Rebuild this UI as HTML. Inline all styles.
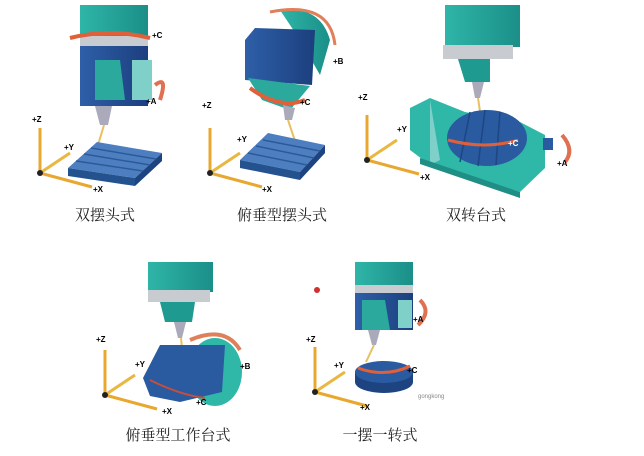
<!DOCTYPE html>
<html><head><meta charset="utf-8"><style>
html,body{margin:0;padding:0;background:#fff;}
body{width:644px;height:456px;overflow:hidden;position:relative;}
.l{position:absolute;font-family:"Liberation Serif","Noto Serif CJK SC",serif;font-size:15px;color:#222;white-space:nowrap;transform:translateX(-50%);}
</style></head><body>
<svg width="644" height="456" style="position:absolute;left:0;top:0" font-family="Liberation Sans, sans-serif" font-weight="bold" font-size="8">
<defs>
<linearGradient id="t" x1="0" x2="1"><stop offset="0" stop-color="#2fb5a8"/><stop offset="1" stop-color="#1a8f88"/></linearGradient>
<linearGradient id="b" x1="0" x2="1"><stop offset="0" stop-color="#2e5fa8"/><stop offset="1" stop-color="#1c3f7e"/></linearGradient>
<g id="ax">
<line x1="0" y1="0" x2="0" y2="-45" stroke="#e8a830" stroke-width="3"/>
<line x1="0" y1="0" x2="30" y2="-20" stroke="#e8b840" stroke-width="3"/>
<line x1="0" y1="0" x2="52" y2="14" stroke="#e8a830" stroke-width="3"/>
<circle r="3" fill="#222"/>
</g>
</defs>
<!-- 1 -->
<rect x="80" y="5" width="68" height="32" fill="url(#t)"/>
<rect x="80" y="36" width="68" height="10" fill="#c8ccd0"/>
<path d="M70 38 Q110 28 150 38" stroke="#e0603a" stroke-width="4" fill="none"/>
<rect x="80" y="46" width="68" height="60" fill="url(#b)"/>
<path d="M95 60 L120 60 L125 100 L95 100Z" fill="#2aa99c"/>
<rect x="132" y="60" width="20" height="40" fill="#7fd0c8"/>
<path d="M155 85 Q168 75 160 100" stroke="#e07050" stroke-width="4" fill="none"/>
<path d="M95 106 L112 106 L108 125 L100 125Z" fill="#aab"/>
<line x1="104" y1="125" x2="98" y2="145" stroke="#e8c060" stroke-width="2"/>
<path d="M68 168 L97 142 L162 153 L135 178Z" fill="#4d7fc0"/>
<path d="M68 168 L135 178 L135 186 L68 176Z" fill="#24528f"/>
<path d="M135 178 L162 153 L162 161 L135 186Z" fill="#1d4480"/>
<g stroke="#2c5a98" stroke-width="1.5"><line x1="76" y1="161" x2="143" y2="171"/><line x1="84" y1="154" x2="150" y2="165"/><line x1="91" y1="148" x2="156" y2="159"/></g>
<use href="#ax" x="40" y="173"/>
<text x="152" y="38">+C</text><text x="146" y="104">+A</text><text x="32" y="122">+Z</text><text x="64" y="150">+Y</text><text x="93" y="192">+X</text>
<!-- 2 -->
<path d="M280 10 Q320 5 330 40 L320 75 L300 40Z" fill="url(#t)"/>
<path d="M270 12 Q330 0 335 45" stroke="#e0805a" stroke-width="3" fill="none"/>
<path d="M245 40 L255 28 L315 30 L312 85 L245 80Z" fill="url(#b)"/>
<path d="M248 78 L310 86 L290 110 L262 100Z" fill="#2aa99c"/>
<path d="M250 88 Q280 110 305 100" stroke="#e0603a" stroke-width="4" fill="none"/>
<path d="M283 105 L295 108 L292 120 L285 120Z" fill="#aab"/>
<line x1="288" y1="120" x2="298" y2="150" stroke="#e8c060" stroke-width="2"/>
<path d="M240 160 L268 133 L325 145 L300 172Z" fill="#4d7fc0"/>
<path d="M240 160 L300 172 L300 180 L240 168Z" fill="#24528f"/>
<path d="M300 172 L325 145 L325 153 L300 180Z" fill="#1d4480"/>
<g stroke="#2c5a98" stroke-width="1.5"><line x1="248" y1="153" x2="307" y2="165"/><line x1="256" y1="146" x2="314" y2="158"/><line x1="263" y1="140" x2="320" y2="151"/></g>
<use href="#ax" x="210" y="173"/>
<text x="333" y="64">+B</text><text x="300" y="105">+C</text><text x="202" y="108">+Z</text><text x="237" y="142">+Y</text><text x="262" y="192">+X</text>
<!-- 3 -->
<rect x="445" y="5" width="75" height="42" fill="url(#t)"/>
<rect x="443" y="45" width="70" height="14" fill="#c8ccd0"/>
<path d="M458 59 L490 59 L490 82 L465 82Z" fill="#1f9a90"/>
<path d="M472 82 L484 82 L480 98 L475 98Z" fill="#aab"/>
<line x1="478" y1="98" x2="481" y2="118" stroke="#e8c060" stroke-width="2"/>
<path d="M410 108 L430 98 L465 112 L520 122 L545 135 L545 168 L520 192 L430 165 L410 150Z" fill="#2fb8a8"/>
<path d="M430 100 L440 160 L430 165Z" fill="#7fd0c8"/>
<path d="M420 158 L520 192 L520 198 L420 164Z" fill="#1f8f86"/>
<ellipse cx="487" cy="138" rx="40" ry="28" fill="#2a5aa0"/>
<g stroke="#1e4680" stroke-width="1.5"><line x1="470" y1="112" x2="460" y2="162"/><line x1="485" y1="110" x2="478" y2="166"/><line x1="500" y1="112" x2="496" y2="165"/></g>
<path d="M448 140 Q485 150 518 140" stroke="#e0603a" stroke-width="3" fill="none"/>
<rect x="543" y="138" width="10" height="12" fill="#2a5aa0"/>
<path d="M562 135 Q575 150 565 162" stroke="#e07050" stroke-width="4" fill="none"/>
<use href="#ax" x="367" y="160"/>
<text x="508" y="146" fill="#fff">+C</text><text x="557" y="166">+A</text><text x="358" y="100">+Z</text><text x="397" y="132">+Y</text><text x="420" y="180">+X</text>
<!-- 4 -->
<rect x="148" y="262" width="65" height="30" fill="url(#t)"/>
<rect x="148" y="290" width="62" height="12" fill="#c8ccd0"/>
<path d="M160 302 L195 302 L192 322 L165 322Z" fill="#1f9a90"/>
<path d="M174 322 L186 322 L182 338 L178 338Z" fill="#aab"/>
<line x1="181" y1="338" x2="183" y2="358" stroke="#e8c060" stroke-width="2"/>
<ellipse cx="215" cy="372" rx="27" ry="34" fill="#2fb8a8"/>
<path d="M143 378 L160 345 L225 345 L222 392 L180 402 L150 396Z" fill="#2a5aa0"/>
<path d="M190 340 Q225 325 240 350" stroke="#e0805a" stroke-width="4" fill="none"/>
<path d="M150 380 Q180 395 205 398" stroke="#c05040" stroke-width="2" fill="none"/>
<use href="#ax" x="105" y="395"/>
<text x="240" y="369">+B</text><text x="196" y="405">+C</text><text x="96" y="342">+Z</text><text x="135" y="367">+Y</text><text x="162" y="414">+X</text>
<!-- 5 -->
<circle cx="317" cy="290" r="3" fill="#d03030"/>
<rect x="355" y="262" width="58" height="25" fill="url(#t)"/>
<rect x="355" y="285" width="58" height="8" fill="#c8ccd0"/>
<rect x="355" y="293" width="58" height="37" fill="url(#b)"/>
<path d="M362 300 L385 300 L390 330 L362 330Z" fill="#2aa99c"/>
<rect x="398" y="300" width="14" height="28" fill="#7fd0c8"/>
<path d="M420 300 Q432 312 418 325" stroke="#e07050" stroke-width="4" fill="none"/>
<path d="M368 330 L380 330 L376 345 L372 345Z" fill="#aab"/>
<line x1="374" y1="345" x2="366" y2="362" stroke="#e8c060" stroke-width="2"/>
<path d="M355 372 L355 382 A29 11 0 0 0 413 382 L413 372Z" fill="#1d4480"/>
<ellipse cx="384" cy="372" rx="29" ry="11" fill="#2a5aa0"/>
<path d="M358 368 Q385 378 410 366" stroke="#e0603a" stroke-width="3" fill="none"/>
<use href="#ax" x="315" y="392"/>
<text x="306" y="342">+Z</text><text x="334" y="368">+Y</text><text x="360" y="410">+X</text><text x="407" y="373">+C</text><text x="413" y="322">+A</text>
<text x="418" y="398" font-weight="normal" font-size="6" fill="#888">gongkong</text>
</svg>
<div class="l" style="left:105px;top:204px">双摆头式</div>
<div class="l" style="left:282px;top:204px">俯垂型摆头式</div>
<div class="l" style="left:476px;top:204px">双转台式</div>
<div class="l" style="left:178px;top:424px">俯垂型工作台式</div>
<div class="l" style="left:380px;top:424px">一摆一转式</div>
</body></html>
